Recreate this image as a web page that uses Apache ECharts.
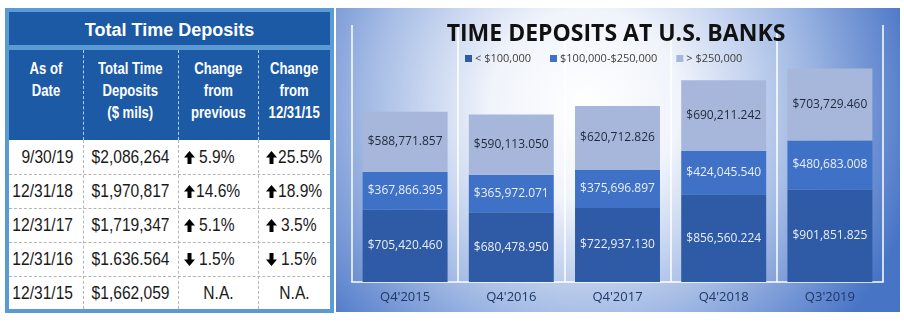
<!DOCTYPE html>
<html>
<head>
<meta charset="utf-8">
<script src="https://cdn.jsdelivr.net/npm/echarts@6/dist/echarts.min.js"></script>
<style>
  html, body { margin: 0; padding: 0; background: #ffffff; width: 904px; height: 322px; overflow: hidden; }
  #chart { position: absolute; left: 0; top: 0; width: 904px; height: 322px; }
  #tbl { position: absolute; left: 5px; top: 8px; width: 329px; height: 305px; box-sizing: border-box;
         border: 4px solid #5b9bd5; background: #fff; z-index: 5; }
  #tbl .cell { position: absolute; box-sizing: border-box; display: flex; align-items: center; white-space: nowrap; }
  #tbl .ttl { background: #1c5aa5; color: #fff; font: bold 18px "Liberation Sans", Arial, sans-serif; justify-content: center; padding-top: 3px; }
  #tbl .sep { background: #5b9bd5; }
  #tbl .hbg { background: #1c5aa5; }
  #tbl .hdr { color: #fff; font: bold 16px "Liberation Sans", Arial, sans-serif; line-height: 22px; text-align: center;
              align-items: flex-start; justify-content: center; padding-top: 8px; }
  #tbl .dat { color: #1a1a1a; font: 19px "Liberation Sans", Arial, sans-serif; }
  #tbl .n { display: inline-block; transform: scaleX(0.82); }
  #tbl .vl { position: absolute; width: 0; }
  #tbl .hl { position: absolute; height: 0; }
</style>
</head>
<body>
<div id="chart"></div>
<div id="tbl"></div>
<script>
// ---------- data ----------
const categories = ["Q4'2015", "Q4'2016", "Q4'2017", "Q4'2018", "Q3'2019"];
const seriesNames = ['< $100,000', '$100,000-$250,000', '> $250,000'];
const under100k = [705420.460, 680478.950, 722937.130, 856560.224, 901851.825];
const from100kTo250k = [367866.395, 365972.071, 375696.897, 424045.540, 480683.008];
const over250k = [588771.857, 590113.050, 620712.826, 690211.242, 703729.460];

const tableTitle = 'Total Time Deposits';
const tableHeaders = [['As of', 'Date'], ['Total Time', 'Deposits', '($ mils)'], ['Change', 'from', 'previous'], ['Change', 'from', '12/31/15']];
const tableDates = ['9/30/19', '12/31/18', '12/31/17', '12/31/16', '12/31/15'];
const tableTotals = ['$2,086,264', '$1,970,817', '$1,719,347', '$1.636.564', '$1,662,059'];
const changePrevious = [5.9, 14.6, 5.1, -1.5, null];
const changeSince2015 = [25.5, 18.9, 3.5, -1.5, null];

// ---------- table (layout) ----------
const colX = [0, 74, 169, 249, 321];
const rowY = [128, 162, 196, 230, 264, 297];
function arrowSvg(up) {
  const pts = up ? '5.5,0 11,6.5 7.5,6.5 7.5,13 3.5,13 3.5,6.5 0,6.5' : '5.5,13 11,6.5 7.5,6.5 7.5,0 3.5,0 3.5,6.5 0,6.5';
  return '<svg width="11" height="13" viewBox="0 0 11 13" style="flex:none"><polygon points="' + pts + '" fill="#000"/></svg>';
}
function cell(x, y, w, h, cls, html, style) {
  return '<div class="cell ' + cls + '" style="left:' + x + 'px;top:' + y + 'px;width:' + w + 'px;height:' + h + 'px;' + (style || '') + '">' + html + '</div>';
}
(function buildTable() {
  let h = '';
  h += cell(0, 0, 321, 33, 'ttl', tableTitle);
  h += cell(0, 33, 321, 5, 'sep', '');
  h += cell(0, 38, 321, 90, 'hbg', '');
  tableHeaders.forEach((lines, c) => {
    h += cell(colX[c], 38, colX[c + 1] - colX[c], 90, 'hdr', '<span class="n" style="transform-origin:center">' + lines.join('<br>') + '</span>');
  });
  for (let i = 0; i < tableDates.length; i++) {
    const y = rowY[i], hh = rowY[i + 1] - rowY[i];
    h += cell(colX[0], y, colX[1] - colX[0], hh, 'dat', '<span class="n" style="transform-origin:right center">' + tableDates[i] + '</span>', 'justify-content:flex-end;padding-right:10px');
    h += cell(colX[1], y, colX[2] - colX[1], hh, 'dat', '<span class="n" style="transform-origin:center">' + tableTotals[i] + '</span>', 'justify-content:center');
    [changePrevious, changeSince2015].forEach((arr, k) => {
      const c = 2 + k, v = arr[i];
      const x = colX[c], w = colX[c + 1] - colX[c];
      if (v === null) {
        h += cell(x, y, w, hh, 'dat', '<span class="n" style="transform-origin:center">N.A.</span>', 'justify-content:center');
      } else {
        const a = Math.abs(v);
        const gap = a < 10 ? 4 : 1;
        h += cell(x, y, w, hh, 'dat', arrowSvg(v > 0) + '<span class="n" style="transform-origin:left center;margin-left:' + gap + 'px">' + a.toFixed(1) + '%</span>',
                  'justify-content:flex-start;padding-left:' + (k === 0 ? 6 : 8) + 'px');
      }
    });
  }
  for (let c = 1; c < 4; c++) {
    h += '<div class="vl" style="left:' + colX[c] + 'px;top:38px;height:90px;border-left:1px dashed #b9cde9"></div>';
    h += '<div class="vl" style="left:' + colX[c] + 'px;top:128px;height:169px;border-left:1px dashed #b5b5b5"></div>';
  }
  for (let r = 1; r < 5; r++) {
    h += '<div class="hl" style="left:0;top:' + rowY[r] + 'px;width:321px;border-top:1px dashed #b5b5b5"></div>';
  }
  document.getElementById('tbl').innerHTML = h;
})();

// ---------- chart ----------
function fmt(v) {
  const parts = v.toFixed(3).split('.');
  return '$' + parts[0].replace(/\B(?=(\d{3})+(?!\d))/g, ',') + '.' + parts[1];
}
const chart = echarts.init(document.getElementById('chart'), null, { renderer: 'canvas' });
const font = '"Open Sans", "Noto Sans", sans-serif';
const colors = ['#2e5aa6', '#3f72c6', '#a7b7db'];
const labelColors = ['#e9eef8', '#e9eef8', '#1e2a3c'];
const dataSets = [under100k, from100kTo250k, over250k];

chart.setOption({
  backgroundColor: '#ffffff',
  animation: false,
  graphic: [{
    type: 'rect', z: -10,
    shape: { x: 336, y: 8, width: 564, height: 304 },
    style: {
      fill: new echarts.graphic.RadialGradient(585, 105, 340, [
        { offset: 0, color: '#ffffff' },
        { offset: 0.28, color: '#f0f4fb' },
        { offset: 0.62, color: '#a8bee6' },
        { offset: 1, color: '#4874c6' }
      ], true)
    }
  }],
  title: {
    text: 'TIME DEPOSITS AT U.S. BANKS',
    left: 616, top: 22, textAlign: 'center', padding: 0,
    textStyle: { fontFamily: font, fontWeight: 'bold', fontSize: 23, color: '#111111', lineHeight: 24 }
  },
  legend: {
    data: seriesNames,
    left: 465, top: 53, padding: 0,
    itemWidth: 7, itemHeight: 7, itemGap: 19, icon: 'rect',
    textStyle: { fontFamily: font, fontSize: 11, color: '#404040', padding: [0, 0, 0, -2] }
  },
  grid: { left: 352, right: 21, top: 25, bottom: 40, containLabel: false },
  xAxis: {
    type: 'category', data: categories,
    axisTick: { show: false },
    axisLine: { show: true, lineStyle: { color: 'rgba(255,255,255,0.75)', width: 2 } },
    splitLine: { show: true, interval: 0, lineStyle: { color: 'rgba(255,255,255,0.75)', width: 2 } },
    axisLabel: { fontFamily: font, fontSize: 13, color: '#1f3864', margin: 9 }
  },
  yAxis: { type: 'value', min: 0, max: 2510000, show: false, splitLine: { show: false } },
  series: dataSets.map((d, i) => ({
    name: seriesNames[i], type: 'bar', stack: 'total', data: d,
    barCategoryGap: '20%',
    itemStyle: { color: colors[i] },
    label: {
      show: true, position: 'inside', formatter: p => fmt(p.value),
      fontFamily: font, fontSize: 12, color: labelColors[i]
    }
  }))
});
</script>
</body>
</html>
